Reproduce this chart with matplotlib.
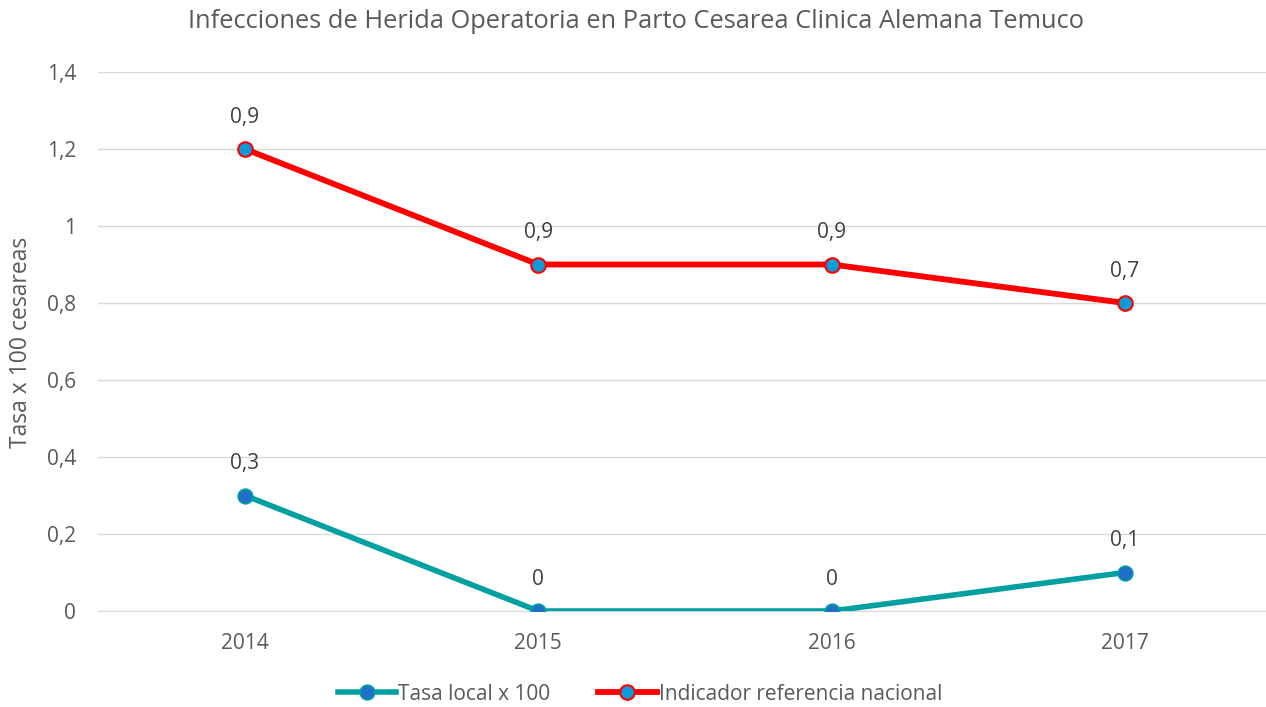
import matplotlib
matplotlib.use("Agg")
import matplotlib.pyplot as plt

years = ["2014", "2015", "2016", "2017"]
local = [0.3, 0.0, 0.0, 0.1]
local_labels = ["0,3", "0", "0", "0,1"]
nacional = [1.2, 0.9, 0.9, 0.8]
nacional_labels = ["0,9", "0,9", "0,9", "0,7"]
yticks = [0, 0.2, 0.4, 0.6, 0.8, 1.0, 1.2, 1.4]
ytick_labels = ["0", "0,2", "0,4", "0,6", "0,8", "1", "1,2", "1,4"]

plt.rcParams['font.family'] = ['Open Sans', 'DejaVu Sans']
gray = "#595959"

fig = plt.figure(figsize=(12.66, 7.07), dpi=100)
ax = fig.add_axes([98.3/1266, 96/707, (1271.7-98.3)/1266, 539/707])
x = list(range(len(years)))

l1, = ax.plot(x, local, color="#00A0A0", lw=4.0, marker="o", ms=10.5,
              mfc="#1F6FC8", mec="#00A0A0", mew=1.2, label="Tasa local x 100", zorder=3)
l2, = ax.plot(x, nacional, color="#FF0000", lw=4.2, marker="o", ms=10.5,
              mfc="#0A9AD8", mec="#FF0000", mew=1.5, label="Indicador referencia nacional", zorder=3)

for xi, v, t in zip(x, local, local_labels):
    ax.annotate(t, (xi, v), xytext=(0, 23), textcoords="offset points",
                ha="center", va="center", fontsize=15, color="#404040")
for xi, v, t in zip(x, nacional, nacional_labels):
    ax.annotate(t, (xi, v), xytext=(0, 23), textcoords="offset points",
                ha="center", va="center", fontsize=15, color="#404040")

ax.set_xlim(-0.5, 3.5)
ax.set_ylim(0, 1.4)
ax.set_yticks(yticks)
ax.set_yticklabels(ytick_labels)
ax.set_xticks(x)
ax.set_xticklabels(years)
ax.tick_params(axis="both", length=0, labelsize=15, labelcolor=gray)
ax.tick_params(axis="y", pad=16)
ax.tick_params(axis="x", pad=16)
ax.grid(axis="y", color="#D9D9D9", lw=1)
ax.set_axisbelow(True)
for s in ["top", "right", "left"]:
    ax.spines[s].set_visible(False)
ax.spines["bottom"].set_color("#D9D9D9")

fig.text(21/1266, 1 - 342/707, "Tasa x 100 cesareas", rotation=90,
         ha="center", va="center", fontsize=16.5, color=gray)
fig.text(636/1266, 1 - 22/707, "Infecciones de Herida Operatoria en Parto Cesarea Clinica Alemana Temuco",
         ha="center", va="center", fontsize=18.3, color=gray)

fig.legend(handles=[l1, l2], loc="center", bbox_to_anchor=(640/1266, 1 - 694/707), ncol=2,
           frameon=False, fontsize=15, labelcolor=gray, handlelength=2.8, columnspacing=2.3,
           handletextpad=0.1)

fig.savefig("out.png", dpi=100)
